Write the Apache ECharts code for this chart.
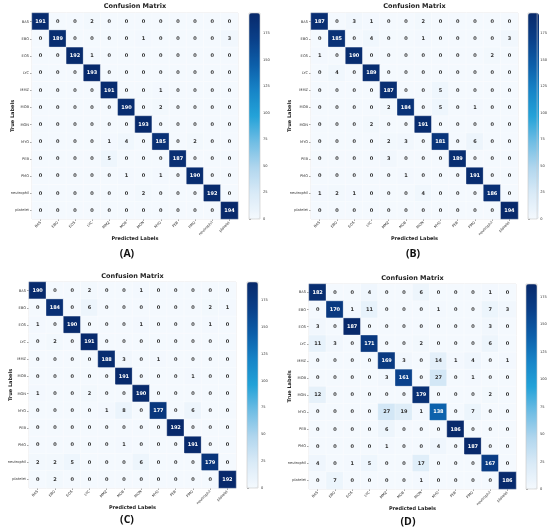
<!DOCTYPE html>
<html><head><meta charset="utf-8">
<script src="https://cdn.jsdelivr.net/npm/echarts@6/dist/echarts.min.js"></script>
<style>html,body{margin:0;padding:0;background:#fff}#c{width:550px;height:531px}</style>
</head><body><div id="c"></div>
<script>
const labels = ['BAS','EBO','EOS','LYC','MMZ','MOB','MON','MYO','PEB','PMO','neutrophil','platelet'];
const cbarTicks = [0,25,50,75,100,125,150,175];
const panelNames = ['(A)','(B)','(C)','(D)'];
const chartTitle = 'Confusion Matrix';
const xName = 'Predicted Labels';
const yName = 'True Labels';

const matrixA = [
 [191,0,0,2,0,0,0,0,0,0,0,0],
 [0,189,0,0,0,0,1,0,0,0,0,3],
 [0,0,192,1,0,0,0,0,0,0,0,0],
 [0,0,0,193,0,0,0,0,0,0,0,0],
 [0,0,0,0,191,0,0,1,0,0,0,0],
 [0,0,0,0,0,190,0,2,0,0,0,0],
 [0,0,0,0,0,0,193,0,0,0,0,0],
 [0,0,0,0,1,4,0,185,0,2,0,0],
 [0,0,0,0,5,0,0,0,187,0,0,0],
 [0,0,0,0,0,1,0,1,0,190,0,0],
 [0,0,0,0,0,0,2,0,0,0,192,0],
 [0,0,0,0,0,0,0,0,0,0,0,194]
];
const matrixB = [
 [187,0,3,1,0,0,2,0,0,0,0,0],
 [0,185,0,4,0,0,1,0,0,0,0,3],
 [1,0,190,0,0,0,0,0,0,0,2,0],
 [0,4,0,189,0,0,0,0,0,0,0,0],
 [0,0,0,0,187,0,0,5,0,0,0,0],
 [0,0,0,0,2,184,0,5,0,1,0,0],
 [0,0,0,2,0,0,191,0,0,0,0,0],
 [0,0,0,0,2,3,0,181,0,6,0,0],
 [0,0,0,0,3,0,0,0,189,0,0,0],
 [0,0,0,0,0,1,0,0,0,191,0,0],
 [1,2,1,0,0,0,4,0,0,0,186,0],
 [0,0,0,0,0,0,0,0,0,0,0,194]
];
const matrixC = [
 [190,0,0,2,0,0,1,0,0,0,0,0],
 [0,184,0,6,0,0,0,0,0,0,2,1],
 [1,0,190,0,0,0,1,0,0,0,1,0],
 [0,2,0,191,0,0,0,0,0,0,0,0],
 [0,0,0,0,188,3,0,1,0,0,0,0],
 [0,0,0,0,0,191,0,0,0,1,0,0],
 [1,0,0,2,0,0,190,0,0,0,0,0],
 [0,0,0,0,1,8,0,177,0,6,0,0],
 [0,0,0,0,0,0,0,0,192,0,0,0],
 [0,0,0,0,0,1,0,0,0,191,0,0],
 [2,2,5,0,0,0,6,0,0,0,179,0],
 [0,2,0,0,0,0,0,0,0,0,0,192]
];
const matrixD = [
 [182,0,0,4,0,0,6,0,0,0,1,0],
 [0,170,1,11,0,0,0,1,0,0,7,3],
 [3,0,187,0,0,0,0,0,0,0,3,0],
 [11,3,0,171,0,0,2,0,0,0,6,0],
 [0,0,0,0,169,3,0,14,1,4,0,1],
 [0,0,0,0,3,161,0,27,0,1,0,0],
 [12,0,0,0,0,0,179,0,0,0,2,0],
 [0,0,0,0,27,19,1,138,0,7,0,0],
 [0,0,0,0,6,0,0,0,186,0,0,0],
 [0,0,0,0,1,0,0,4,0,187,0,0],
 [4,0,1,5,0,0,17,0,0,0,167,0],
 [0,7,0,0,0,0,1,0,0,0,0,186]
];
const matrices = [matrixA, matrixB, matrixC, matrixD];

// layout (style only)
const layout = [
  {left:32, top:13, w:206, h:206, cb:249, titleY:6, xNameY:239, yNameX:13, panelX:127, panelY:254},
  {left:311, top:13, w:207, h:206, cb:528, titleY:6, xNameY:239, yNameX:290, panelX:413, panelY:254},
  {left:29, top:282, w:207, h:206, cb:247, titleY:276, xNameY:508, yNameX:11, panelX:127, panelY:520},
  {left:309, top:284, w:207, h:205, cb:526, titleY:278, xNameY:509, yNameX:290, panelX:408, panelY:522}
];
const colors = ['#f4f9fe','#d9eaf7','#b0d6ee','#6fbde4','#23a2d8','#1784c7','#0c5ea9','#0a3f88','#08296b'];
const FONT = 'DejaVu Sans';

const grid = [], xAxis = [], yAxis = [], series = [], visualMap = [], graphic = [];
matrices.forEach((m, k) => {
  const L = layout[k];
  let maxV = 0;
  const data = [];
  m.forEach((row, i) => row.forEach((v, j) => { data.push([j, i, v]); if (v > maxV) maxV = v; }));
  grid.push({left:L.left, top:L.top, width:L.w, height:L.h, show:true, borderColor:'#c8c8c8', borderWidth:0.6, containLabel:false});
  grid.push({left:L.cb, top:L.top, width:11, height:L.h, show:true, borderColor:'#c8c8c8', borderWidth:0.6, containLabel:false, z:5});
  xAxis.push({type:'category', gridIndex:2*k, data:labels, position:'bottom',
    axisLine:{show:false}, axisTick:{show:true, length:2, alignWithLabel:true, lineStyle:{color:'#555', width:0.5}},
    axisLabel:{fontSize:3.6, color:'#333', rotate:45, margin:3, interval:0, fontFamily:FONT},
    splitLine:{show:false}});
  yAxis.push({type:'category', gridIndex:2*k, data:labels, inverse:true,
    axisLine:{show:false}, axisTick:{show:true, length:2, alignWithLabel:true, lineStyle:{color:'#555', width:0.5}},
    axisLabel:{fontSize:3.6, color:'#333', margin:3, interval:0, fontFamily:FONT},
    splitLine:{show:false}});
  xAxis.push({type:'value', gridIndex:2*k+1, show:false, min:0, max:1});
  yAxis.push({type:'value', gridIndex:2*k+1, min:0, max:maxV, position:'right',
    axisLine:{show:false}, splitLine:{show:false},
    axisTick:{show:true, length:2, customValues:cbarTicks, lineStyle:{color:'#555', width:0.5}},
    axisLabel:{fontSize:3.6, color:'#333', margin:3, customValues:cbarTicks, fontFamily:FONT}});
  const thr = maxV / 2;
  series.push({type:'heatmap', xAxisIndex:2*k, yAxisIndex:2*k, data:data,
    itemStyle:{borderColor:'rgba(255,255,255,0.7)', borderWidth:0.5},
    label:{show:true, fontFamily:FONT,
      formatter:p => (p.value[2] > thr ? '{w|' : '{d|') + p.value[2] + '}',
      rich:{w:{color:'#fff', fontSize:5, fontWeight:'bold', fontFamily:FONT},
            d:{color:'#333', fontSize:5, fontWeight:'bold', fontFamily:FONT}}},
    emphasis:{disabled:true}});
  visualMap.push({type:'continuous', seriesIndex:k, min:0, max:maxV, orient:'vertical',
    left:L.cb, top:L.top, itemWidth:11, itemHeight:L.h, padding:0, calculable:false,
    hoverLink:false, text:null, showLabel:false, inRange:{color:colors}, textStyle:{fontSize:0}});
  graphic.push({type:'text', x:L.left + L.w/2, y:L.titleY, style:{text:chartTitle, textAlign:'center', textVerticalAlign:'middle', font:'bold 6.5px "DejaVu Sans"', fill:'#222'}});
  graphic.push({type:'text', x:L.left + L.w/2, y:L.xNameY, style:{text:xName, textAlign:'center', textVerticalAlign:'middle', font:'bold 5px "DejaVu Sans"', fill:'#222'}});
  graphic.push({type:'text', x:L.yNameX, y:L.top + L.h/2, rotation:Math.PI/2, style:{text:yName, textAlign:'center', textVerticalAlign:'middle', font:'bold 5px "DejaVu Sans"', fill:'#222'}});
  graphic.push({type:'text', x:L.panelX, y:L.panelY, style:{text:panelNames[k], textAlign:'center', textVerticalAlign:'middle', font:'bold 10.5px "Open Sans"', fill:'#111'}});
});

const chart = echarts.init(document.getElementById('c'), null, {renderer:'canvas'});
chart.setOption({animation:false, backgroundColor:'#fff', grid, xAxis, yAxis, series, visualMap, graphic});
</script></body></html>
